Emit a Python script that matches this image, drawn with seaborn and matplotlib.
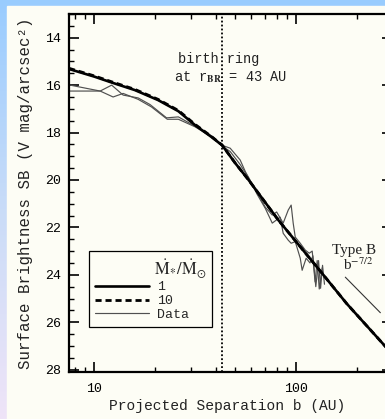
import numpy as np
import matplotlib
matplotlib.use("Agg")
import matplotlib.pyplot as plt
import seaborn as sns
from matplotlib.ticker import FixedLocator, LogLocator, NullFormatter, FixedFormatter, MultipleLocator
from matplotlib.patches import Rectangle
from matplotlib.lines import Line2D
from matplotlib.colors import LinearSegmentedColormap

# ---------------- data ----------------
model1_b = [7.5, 10.0, 12.2, 15.9, 20.7, 26.1, 31.6, 38.1, 43.0, 50.0, 58.1, 70.0, 81.7, 100.0, 130.0, 178.0, 230.0, 300.0]
model1_sb = [15.32, 15.64, 15.89, 16.21, 16.63, 17.10, 17.69, 18.19, 18.54, 19.30, 20.0, 20.93, 21.70, 22.61, 23.79, 25.22, 26.27, 27.36]

model10_b = [7.5, 10.0, 12.2, 15.9, 20.7, 26.1, 31.6, 38.1, 43.0, 50.0, 58.1, 70.0, 81.7, 100.0, 130.0, 178.0, 230.0, 300.0]
model10_sb = [15.29, 15.61, 15.86, 16.18, 16.60, 17.07, 17.66, 18.17, 18.53, 19.30, 20.0, 20.93, 21.70, 22.61, 23.79, 25.22, 26.27, 27.36]

data1_b = [7.6, 10.7, 12.2, 13.9, 16.5, 18.9, 22.8, 26.1, 30.9, 38.1, 43.0, 47.1, 52.8, 56.0, 62.7,
           70.3, 76.1, 80.0, 86.2, 91.3, 94.4, 96.6, 98.9, 104.7, 110.9, 116.0, 120.0, 124.0, 127.0, 130.0, 134.6]
data1_sb = [16.0, 16.25, 16.0, 16.42, 16.54, 16.82, 17.38, 17.34, 17.69, 18.14, 18.54, 18.66, 19.16, 19.65, 20.4,
            21.15, 21.48, 21.35, 21.82, 21.27, 21.06, 21.82, 22.41, 22.67, 22.96, 23.09, 23.0, 24.3, 23.4, 24.6, 23.7]

data2_b = [7.6, 10.7, 12.4, 13.9, 16.5, 19.2, 23.0, 26.1, 31.6, 38.1, 43.0, 47.1, 52.8, 58.0, 64.0,
           70.3, 76.1, 83.3, 86.2, 91.3, 94.4, 98.9, 104.7, 107.0, 112.0, 117.0, 121.0, 125.0, 129.0, 132.0, 135.0, 138.0]
data2_sb = [16.25, 16.25, 16.5, 16.35, 16.6, 16.92, 17.44, 17.44, 17.76, 18.19, 18.57, 18.8, 19.35, 19.9, 20.6,
            21.2, 21.82, 21.57, 22.25, 22.54, 22.67, 22.6, 23.3, 23.81, 23.3, 23.5, 23.2, 24.5, 23.4, 24.57, 23.6, 24.4]

typeB_b = [175.0, 261.0]
typeB_sb = [24.1, 25.6]

r_birth = 43.0
xtick_vals = [10, 100]
xtick_labels = ["10", "100"]
ytick_vals = [14, 16, 18, 20, 22, 24, 26, 28]
legend_labels = ["1", "10", "Data"]

# ---------------- style ----------------
sns.set_style("ticks")
plt.rcParams["font.family"] = ["Liberation Mono", "DejaVu Sans"]
plt.rcParams["mathtext.fontset"] = "stix"

W, H = 385, 419
fig = plt.figure(figsize=(W / 100, H / 100), dpi=100)

# background gradient + cream panel
bg = fig.add_axes([0, 0, 1, 1], zorder=-10)
grad = np.linspace(0, 1, 256)[:, None]
cmap = LinearSegmentedColormap.from_list("bg", ["#99ccff", "#c9dcf8", "#efe4f7"])
bg.imshow(grad, aspect="auto", cmap=cmap, extent=[0, 1, 0, 1], origin="upper")
panel = "#fdfdf5"
bg.add_patch(Rectangle((7 / W, 0), 1, 1 - 6 / H, color=panel, transform=bg.transAxes))
bg.set_xlim(0, 1); bg.set_ylim(0, 1)
bg.axis("off")

ax = fig.add_axes([69 / W, 47 / H, 323 / W, 358 / H])
ax.set_facecolor(panel)

sns.lineplot(x=data1_b, y=data1_sb, ax=ax, color="#505050", lw=0.85, sort=False, estimator=None)
sns.lineplot(x=data2_b, y=data2_sb, ax=ax, color="#505050", lw=0.85, sort=False, estimator=None)
sns.lineplot(x=model10_b, y=model10_sb, ax=ax, color="black", lw=2.0, sort=False, estimator=None)
ax.lines[-1].set_dashes([2.2, 1.4])
sns.lineplot(x=model1_b, y=model1_sb, ax=ax, color="black", lw=1.9, sort=False, estimator=None)
sns.lineplot(x=typeB_b, y=typeB_sb, ax=ax, color="#333333", lw=0.8, sort=False, estimator=None)

ax.axvline(r_birth, color="black", lw=1.3, ls=(0, (1, 1.2)))

ax.set_xscale("log")
ax.set_xlim(7.5, 298)
ax.set_ylim(28.1, 13.0)

ax.xaxis.set_major_locator(FixedLocator(xtick_vals))
ax.xaxis.set_major_formatter(FixedFormatter(xtick_labels))
ax.xaxis.set_minor_locator(LogLocator(base=10, subs=np.arange(2, 10)))
ax.xaxis.set_minor_formatter(NullFormatter())
ax.yaxis.set_major_locator(FixedLocator(ytick_vals))
ax.yaxis.set_minor_locator(MultipleLocator(0.5))

ax.tick_params(which="both", direction="in", top=True, right=True, colors="black")
ax.tick_params(which="major", length=7, width=1.2, labelsize=9.5, pad=6)
ax.tick_params(which="minor", length=3.5, width=1.0)
ax.tick_params(axis="x", which="major", pad=8)
for s in ax.spines.values():
    s.set_linewidth(1.6)
    s.set_color("black")

ax.set_xlabel("Projected Separation b (AU)", fontsize=10.5, color="#222222")
ax.set_ylabel("Surface Brightness SB (V mag/arcsec²)", fontsize=11.3, color="#222222")
ax.xaxis.set_label_coords(0.49, -0.075)
ax.yaxis.set_label_coords(-0.11, 0.5)

ax.text(41.1, 14.89, "birth ring", ha="center", va="center", fontsize=9.8, color="#222222")
ax.text(47.1, 15.65, r"at r$_{\mathbf{BR}}$ = 43 AU", ha="center", va="center", fontsize=9.8, color="#222222")
ax.text(150.7, 23.13, "Type B", ha="left", va="baseline", fontsize=11, family="Liberation Serif", color="#222222")
ax.text(171.0, 23.81, r"b$^{-7/2}$", ha="left", va="baseline", fontsize=11, family="Liberation Serif", color="#222222")

handles = [Line2D([], [], color="black", lw=1.9),
           Line2D([], [], color="black", lw=2.0, dashes=[2.2, 1.4]),
           Line2D([], [], color="#505050", lw=0.85)]
leg = ax.legend(handles, legend_labels,
                title="      " + r"$\dot{\mathrm{M}}_{*}/\dot{\mathrm{M}}_{\odot}$",
                loc="upper left", bbox_to_anchor=((89 - 69) / 323, (372 - 251) / 358),
                borderaxespad=0, frameon=True, fancybox=False, framealpha=1,
                facecolor=panel, edgecolor="black", fontsize=9.5,
                title_fontproperties={"family": "Liberation Mono", "size": 12},
                handlelength=4.1, labelspacing=0.12, handletextpad=0.6, borderpad=0.45,
                alignment="left")
leg.get_frame().set_linewidth(0.9)

fig.savefig("out.png", dpi=100, facecolor="#99ccff")
